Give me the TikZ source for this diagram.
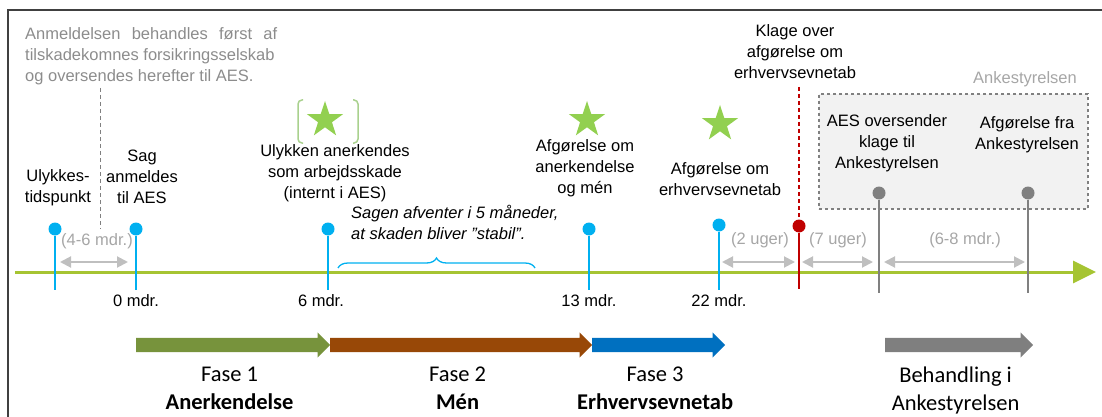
\documentclass[tikz,border=0pt]{standalone}
\usepackage{fontspec}
\setmainfont{Liberation Sans}
\newfontfamily\calibri{Carlito}
\usepackage{tikz}
\usetikzlibrary{positioning,arrows.meta,shapes.geometric,shapes.arrows,decorations.pathreplacing}
\definecolor{tlgreen}{RGB}{166,196,50}
\definecolor{pinblue}{RGB}{0,176,240}
\definecolor{fgreen}{RGB}{119,147,60}
\definecolor{fbrown}{RGB}{152,72,7}
\definecolor{fblue}{RGB}{0,112,192}
\definecolor{fgray}{RGB}{127,127,127}
\definecolor{stargreen}{RGB}{146,208,80}
\definecolor{brgreen}{RGB}{169,209,142}
\definecolor{klred}{RGB}{192,0,0}
\definecolor{lgray}{RGB}{191,191,191}
\definecolor{dgray}{RGB}{166,166,166}
\definecolor{tgray}{RGB}{140,140,140}
\definecolor{pgray}{RGB}{128,128,128}
\definecolor{boxfill}{RGB}{242,242,242}
\definecolor{frmgray}{RGB}{64,64,64}
\newcommand{\lblfont}{\fontsize{16.5}{21}\selectfont}
\newcommand{\fasefont}{\calibri\fontsize{22.5}{28}\selectfont}
\tikzset{lbl/.style={align=center,inner sep=0pt,font=\lblfont},
glbl/.style={lbl,text=tgray},dlbl/.style={lbl,text=dgray},
ftxt/.style={align=center,inner sep=0pt,font=\fasefont},
bdot/.style={circle,fill=pinblue,inner sep=0pt,minimum size=13pt},
rdot/.style={bdot,fill=klred},gdot/.style={bdot,fill=pgray},
grstar/.style={star,star points=5,star point ratio=2.6,fill=stargreen,inner sep=0pt,minimum size=38pt},
fase/.style={single arrow,single arrow head extend=5.5pt,single arrow head indent=0pt,inner xsep=0pt,inner ysep=7pt,anchor=tail},
abox/.style={draw=pgray,dashed,fill=boxfill,line width=1.1pt}}
\tikzstyle{tline} = [tlgreen,line width=3pt,-{Triangle[length=23pt,width=22pt]}]
\tikzstyle{bline} = [pinblue,line width=1.6pt]
\tikzstyle{rline} = [klred,line width=1.6pt]
\tikzstyle{gline} = [pgray,line width=1.6pt]
\tikzstyle{dline} = [pgray,line width=1pt,dash pattern=on 4pt off 3pt]
\tikzstyle{dur} = [lgray,line width=2pt,{Triangle[length=11pt,width=11pt]}-{Triangle[length=11pt,width=11pt]}]
\tikzstyle{frm} = [frmgray,line width=1.5pt]
\tikzstyle{sbr} = [brgreen,line width=1.5pt,rounded corners=4pt]
\tikzstyle{brc} = [pinblue,line width=1.3pt,decorate,decoration={brace,amplitude=10pt}]
\begin{document}
\begin{tikzpicture}[x=1pt,y=-1pt]
\useasboundingbox (0,0) rectangle (1102,417);
\coordinate (fr0) at (8,417);
\coordinate (fr1) at (8,10);
\coordinate (fr2) at (1102,10);
\draw[frm] (fr0) -- (fr1) -- (fr2);

\node[glbl,align=left,anchor=north west] (intro) at (25,27) {\makebox[252pt][s]{Anmeldelsen behandles først af}\\tilskadekomnes forsikringsselskab\\og oversendes herefter til AES.};

\node[abox,minimum width=269pt,minimum height=115pt] (akbox) at (953.5,151.5) {};
\node[dlbl] (akl) at (1025,79) {Ankestyrelsen};

\coordinate (tl0) at (15,272);
\coordinate (tl1) at (1096,272);
\draw[tline] (tl0) -- (tl1);

\coordinate (d0) at (100,88);
\coordinate (d1) at (100,229);
\draw[dline] (d0) -- (d1);

\node[bdot] (p1) at (55,229) {};
\coordinate (p1b) at (55,290);
\draw[bline] (p1) -- (p1b);
\node[bdot] (p2) at (136,229) {};
\coordinate (p2b) at (136,290);
\draw[bline] (p2) -- (p2b);
\node[bdot] (p3) at (328,229) {};
\coordinate (p3b) at (328,290);
\draw[bline] (p3) -- (p3b);
\node[bdot] (p4) at (589,229) {};
\coordinate (p4b) at (589,290);
\draw[bline] (p4) -- (p4b);
\node[bdot] (p5) at (719,225) {};
\coordinate (p5b) at (719,290);
\draw[bline] (p5) -- (p5b);

\node[rdot] (k1) at (799,226) {};
\coordinate (k1t) at (799,87);
\coordinate (k1b) at (799,289);
\draw[rline] (k1) -- (k1b);
\draw[rline,dash pattern=on 4pt off 3pt] (k1t) -- (k1);

\node[gdot] (a1) at (879,193) {};
\coordinate (a1b) at (879,293);
\draw[gline] (a1) -- (a1b);
\node[gdot] (a2) at (1028,193) {};
\coordinate (a2b) at (1028,293);
\draw[gline] (a2) -- (a2b);

\coordinate (u1a) at (60,262);
\coordinate (u1b) at (128,262);
\draw[dur] (u1a) -- (u1b);
\node[dlbl] (u1) at (97,241) {(4-6 mdr.)};
\coordinate (u2a) at (722,262);
\coordinate (u2b) at (795,262);
\draw[dur] (u2a) -- (u2b);
\node[dlbl] (u2) at (760,240) {(2 uger)};
\coordinate (u3a) at (802,262);
\coordinate (u3b) at (873,262);
\draw[dur] (u3a) -- (u3b);
\node[dlbl] (u3) at (838,240) {(7 uger)};
\coordinate (u4a) at (884,262);
\coordinate (u4b) at (1025,262);
\draw[dur] (u4a) -- (u4b);
\node[dlbl] (u4) at (965,240) {(6-8 mdr.)};

\node[lbl,below=4pt of p2b] (m0) {0 mdr.};
\node[lbl,below=4pt of p3b,xshift=-7pt] (m6) {6 mdr.};
\node[lbl,below=4pt of p4b] (m13) {13 mdr.};
\node[lbl,below=4pt of p5b] (m22) {22 mdr.};

\coordinate (br0) at (338,268);
\coordinate (br1) at (535,268);
\draw[brc] (br0) -- (br1);

\node[grstar] (s1) at (325,120) {};
\node[grstar] (s2) at (587,120) {};
\node[grstar] (s3) at (720,124) {};
\draw[sbr] (303,100) -- (298,100) -- (298,143) -- (303,143);
\draw[sbr] (353,100) -- (358,100) -- (358,143) -- (353,143);

\node[lbl] (l1) at (58,188) {Ulykkes-\\tidspunkt};
\node[lbl] (l2) at (142,177) {Sag\\anmeldes\\til AES};
\node[lbl] (l3) at (335,173) {Ulykken anerkendes\\som arbejdsskade\\(internt i AES)};
\node[lbl,font=\lblfont\itshape,align=left,anchor=west] (l4) at (351,222) {Sagen afventer i 5 måneder,\\at skaden bliver ”stabil”.};
\node[lbl] (l5) at (585,168) {Afgørelse om\\anerkendelse\\og mén};
\node[lbl] (l6) at (720,179) {Afgørelse om\\erhvervsevnetab};
\node[lbl] (l7) at (795,52) {Klage over\\afgørelse om\\erhvervsevnetab};
\node[lbl] (l8) at (887,143) {AES oversender\\klage til\\Ankestyrelsen};
\node[lbl] (l9) at (1027,135) {Afgørelse fra\\Ankestyrelsen};

\node[fase,fill=fgreen,minimum height=194pt] (f1) at (136,345) {};
\node[fase,fill=fbrown,minimum height=262pt] (f2) at (330,345) {};
\node[fase,fill=fblue,minimum height=133pt] (f3) at (592,345) {};
\node[fase,fill=fgray,minimum height=148pt] (f4) at (885,345) {};
\node[ftxt,below=14pt of f1] (n1) {Fase 1\\\textbf{Anerkendelse}};
\node[ftxt,below=14pt of f2] (n2) {Fase 2\\\textbf{Mén}};
\node[ftxt,below=14pt of f3] (n3) {Fase 3\\\textbf{Erhvervsevnetab}};
\node[ftxt,below=14pt of f4] (n4) {Behandling i\\Ankestyrelsen};
\end{tikzpicture}
\end{document}
